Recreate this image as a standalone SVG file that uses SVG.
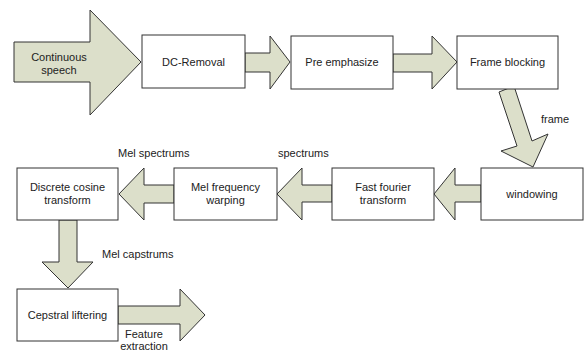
<svg xmlns="http://www.w3.org/2000/svg" width="584" height="351" viewBox="0 0 584 351">
<style>
.box{fill:#ffffff;stroke:#333333;stroke-width:1}
.arr{fill:#dcdfca;stroke:#333333;stroke-width:1;stroke-linejoin:miter}
text{font-family:"Liberation Sans",Arial,sans-serif;font-size:11px;fill:#222222}
.c{text-anchor:middle}
</style>
<rect width="584" height="351" fill="#ffffff"/>
<g id="connectors">
<polygon class="arr" points="14,42 90,42 90,10 141,62 90,115 90,82 14,82"/>
<polygon class="arr" points="245,53 270,53 270,36 290,62 270,89 270,72 245,72"/>
<polygon class="arr" points="393,54 432,54 432,36 457,62 432,89 432,72 393,72"/>
<polygon class="arr" points="499,92 514,86 532,141 548,134 533,167 501,151 517,146"/>
<polygon class="arr" points="481,185 455,185 455,168 434,194 455,220 455,202 481,202"/>
<polygon class="arr" points="332,185 302,185 302,168 277,194 302,220 302,202 332,202"/>
<polygon class="arr" points="174,185 144,185 144,168 119,194 144,220 144,203 174,203"/>
<polygon class="arr" points="59,220 77,220 77,262 93,262 68,288 42,262 59,262"/>
<polygon class="arr" points="118,306 180,306 180,289 205,315 180,341 180,324 118,324"/>
<text class="c" x="59" y="61">Continuous</text>
<text class="c" x="59" y="74">speech</text>
<text x="541" y="123">frame</text>
<text x="278" y="157">spectrums</text>
<text x="118" y="157">Mel spectrums</text>
<text x="102" y="258">Mel capstrums</text>
<text class="c" x="144" y="338">Feature</text>
<text class="c" x="144" y="350">extraction</text>
</g>
<g id="dc-removal"><rect class="box" x="142" y="35" width="103" height="53"/><text class="c" x="193.5" y="66">DC-Removal</text></g>
<g id="pre-emphasize"><rect class="box" x="291" y="36" width="102" height="53"/><text class="c" x="342" y="66">Pre emphasize</text></g>
<g id="frame-blocking"><rect class="box" x="457" y="36" width="101" height="53"/><text class="c" x="507.5" y="66">Frame blocking</text></g>
<g id="windowing"><rect class="box" x="481" y="168" width="102" height="52"/><text class="c" x="532" y="198">windowing</text></g>
<g id="fft"><rect class="box" x="332" y="168" width="102" height="52"/><text class="c" x="383" y="191">Fast fourier</text><text class="c" x="383" y="204">transform</text></g>
<g id="mel-warping"><rect class="box" x="174" y="168" width="103" height="52"/><text class="c" x="225.5" y="191">Mel frequency</text><text class="c" x="225.5" y="204">warping</text></g>
<g id="dct"><rect class="box" x="17" y="168" width="101" height="52"/><text class="c" x="67.5" y="191">Discrete cosine</text><text class="c" x="67.5" y="204">transform</text></g>
<g id="cepstral"><rect class="box" x="17" y="289" width="101" height="52"/><text class="c" x="67.5" y="319">Cepstral liftering</text></g>
</svg>
